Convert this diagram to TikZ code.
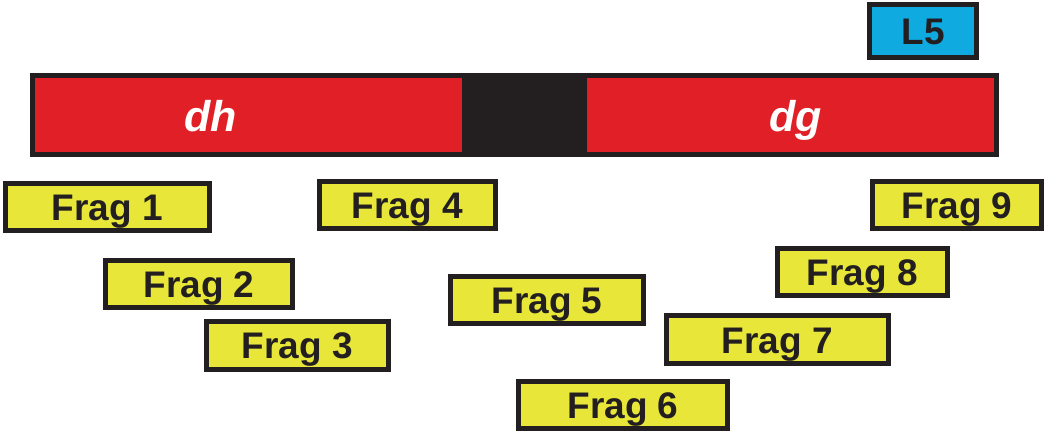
\documentclass[tikz,border=0pt]{standalone}
\usepackage{fontspec}
\setmainfont{Liberation Sans}
\definecolor{inkblack}{HTML}{231F20}
\definecolor{barred}{HTML}{E01F26}
\definecolor{fragyellow}{HTML}{E7E639}
\definecolor{loopcyan}{HTML}{0EAAE0}
\tikzset{
  box/.style={draw=inkblack, line width=5pt, rectangle, inner sep=0pt,
    text=inkblack, font=\fontsize{37}{40}\selectfont\bfseries,
    text height=27pt, text depth=0pt},
  frag/.style={box, fill=fragyellow, minimum height=47pt},
  loopbox/.style={box, fill=loopcyan},
  domainbox/.style={box, fill=barred, minimum height=79pt},
  domaintext/.style={inner sep=0pt, text=white,
    font=\fontsize{43}{46}\selectfont\bfseries\itshape,
    text height=34pt, text depth=0pt}
}
\begin{document}
\begin{tikzpicture}[x=1pt, y=-1pt]
\useasboundingbox (0,0) rectangle (1046,435);
% linker between the two domains
\fill[inkblack] (418,73) rectangle (613,157);
% domains
\node[domainbox, minimum width=432pt] (dh) at (248.5,115) {};
\node[domainbox, minimum width=412pt] (dg) at (790.5,115) {};
\node[domaintext] (dhtext) at ([xshift=-38pt]dh.center) {dh};
\node[domaintext] (dgtext) at ([xshift=5pt]dg.center) {dg};
% loop marker
\node[loopbox, minimum width=107pt, minimum height=53pt] (l5) at (923,31) {L5};
% fragments
\node[frag, minimum width=204pt] (f1) at (107.5,207.5) {Frag 1};
\node[frag, minimum width=187pt] (f2) at (199,284.5) {Frag 2};
\node[frag, minimum width=182pt] (f3) at (297.5,345.5) {Frag 3};
\node[frag, minimum width=176pt] (f4) at (407.5,205) {Frag 4};
\node[frag, minimum width=193pt] (f5) at (547,300.5) {Frag 5};
\node[frag, minimum width=209pt] (f6) at (623,404.5) {Frag 6};
\node[frag, minimum width=222pt] (f7) at (777.5,339.5) {Frag 7};
\node[frag, minimum width=170pt] (f8) at (862.5,272.5) {Frag 8};
\node[frag, minimum width=169pt] (f9) at (957,205) {Frag 9};
\end{tikzpicture}
\end{document}
